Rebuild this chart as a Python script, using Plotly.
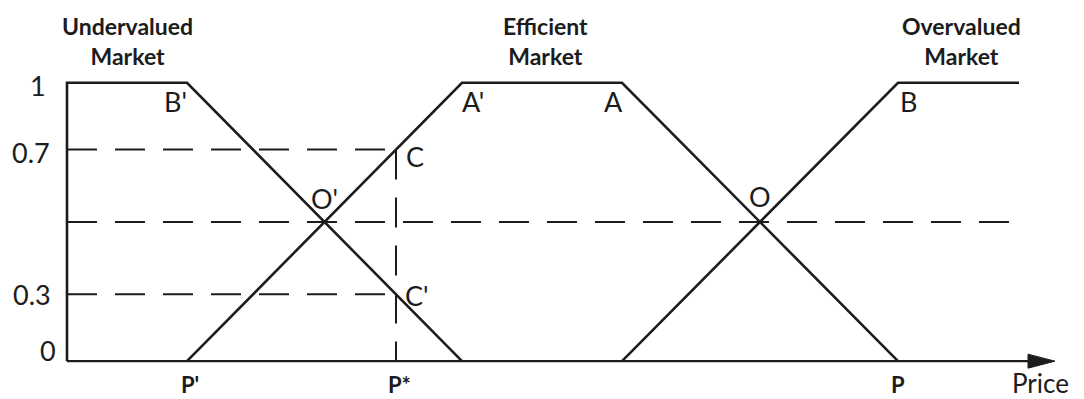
import numpy as np
import plotly.graph_objects as go

# ---- data (price in arbitrary units, membership degree 0..1) ----
under_x = [0, 0, 120, 395]
under_mu = [0, 1, 1, 0]
eff_x = [120, 395, 555, 831]
eff_mu = [0, 1, 1, 0]
over_x = [555, 831, 952]
over_mu = [0, 1, 1]

p_star = 329
mid_level = 0.5
x_end = 952
axis_end = 988

regime_labels = ["Undervalued<br>Market", "Efficient<br>Market", "Overvalued<br>Market"]
regime_x = [60, 478, 894]
price_labels = ["P'", "P*", "P"]
price_x = [120, 329, 831]
mu_tick_text = ["0", "0.3", "0.7", "1"]

# derived membership at P*
c_mu = float(np.interp(p_star, eff_x[:2], eff_mu[:2]))
c2_mu = float(np.interp(p_star, under_x[2:], under_mu[2:]))
mu_tick_vals = [0, c2_mu, c_mu, 1]

# O / O' crossing points (membership = 0.5)
o1_x = float(np.interp(mid_level, eff_mu[:2], eff_x[:2]))
o2_x = float(np.interp(mid_level, over_mu[:2], over_x[:2]))

INK = "#1c1c1c"
FONT = "Lato"
LW = 2.6
DASH = "30px,18px"

fig = go.Figure()

def line(xs, ys, width=LW, dash="solid"):
    fig.add_trace(go.Scatter(x=xs, y=ys, mode="lines",
                             line=dict(color=INK, width=width, dash=dash),
                             hoverinfo="skip", showlegend=False, cliponaxis=False))

# dashed guides
line([0, p_star], [c_mu, c_mu], width=2, dash=DASH)
line([0, p_star], [c2_mu, c2_mu], width=2, dash=DASH)
line([0, x_end], [mid_level, mid_level], width=2, dash=DASH)
line([p_star, p_star], [c_mu, 0], width=2, dash=DASH)

# membership functions
line(under_x, under_mu)
line(eff_x, eff_mu)
line(over_x, over_mu)

# x axis with arrow
head_len = 27
head_half = 7 / 278.4
line([0, axis_end - head_len + 2], [0, 0], width=2.2)
fig.add_trace(go.Scatter(
    x=[axis_end - head_len, axis_end, axis_end - head_len, axis_end - head_len],
    y=[head_half, 0, -head_half, head_half],
    mode="lines", fill="toself", fillcolor=INK, line=dict(color=INK, width=1),
    hoverinfo="skip", showlegend=False))

ann = []
# regime headers
for t, x in zip(regime_labels, regime_x):
    ann.append(dict(x=x, y=1, text=f"<b>{t}</b>", showarrow=False, yshift=42,
                    font=dict(family=FONT, size=23, color=INK), align="center"))

# y tick labels
tick_dx = [-19, -35, -36, -29]
tick_dy = [11, 0, -3, -3]
for v, t, dx, dy in zip(mu_tick_vals, mu_tick_text, tick_dx, tick_dy):
    ann.append(dict(x=0, y=v, text=t, showarrow=False, xshift=dx, yshift=dy,
                    font=dict(family=FONT, size=27, color=INK)))

# price labels
for x, t in zip(price_x, price_labels):
    ann.append(dict(x=x, y=0, text=f"<b>{t}</b>", showarrow=False,
                    xshift=3 if t != "P" else 0, yshift=-23,
                    font=dict(family=FONT, size=22, color=INK)))
ann.append(dict(x=axis_end, y=0, text="Price", showarrow=False, xshift=-15, yshift=-22,
                font=dict(family=FONT, size=26, color=INK)))

# point labels
points = [
    ("B'", eff_x[0], 1, -12, -19),
    ("A'", eff_x[1], 1, 11, -19),
    ("A", eff_x[2], 1, -9, -19),
    ("B", over_x[1], 1, 10, -19),
    ("C", p_star, c_mu, 19, -7),
    ("C'", p_star, c2_mu, 21, -1),
    ("O'", o1_x, mid_level, 0, 23),
    ("O", o2_x, mid_level, 0, 25),
]
for t, x, y, dx, dy in points:
    ann.append(dict(x=x, y=y, text=t, showarrow=False, xshift=dx, yshift=dy,
                    font=dict(family=FONT, size=27, color=INK)))

# the page body adds an 8px offset, so the figure is 8px smaller and margins shifted
fig.update_layout(
    width=1076, height=391,
    margin=dict(l=39, r=17, t=33, b=10, autoexpand=False),
    paper_bgcolor="white", plot_bgcolor="white",
    xaxis=dict(range=[-20, 1000], visible=False),
    yaxis=dict(range=[-0.1, 1.15], visible=False),
    annotations=ann,
    showlegend=False,
)

fig.write_html("out.html")
